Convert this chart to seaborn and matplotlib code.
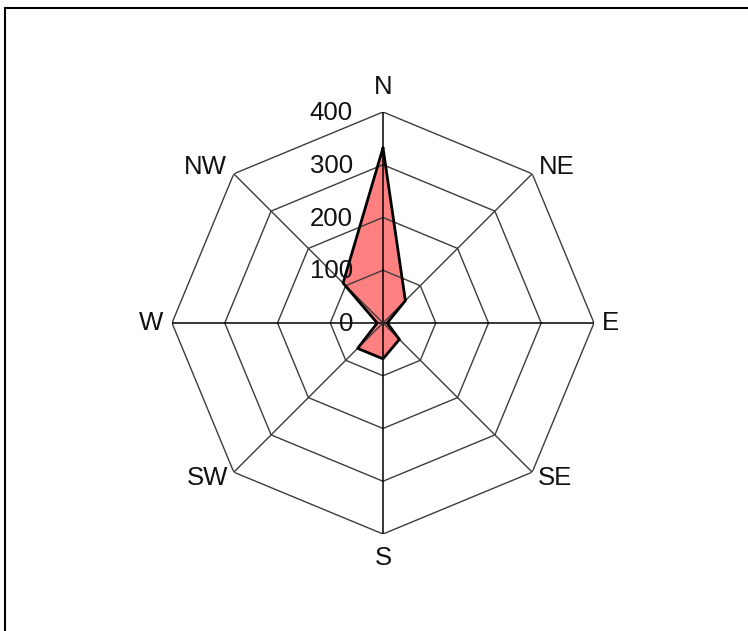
import numpy as np
import pandas as pd
import matplotlib
matplotlib.use("Agg")
import matplotlib.pyplot as plt
import matplotlib.transforms as mtransforms
from matplotlib.lines import Line2D
import seaborn as sns

# ---- data ----
directions = ["N", "NE", "E", "SE", "S", "SW", "W", "NW"]
values = [332, 60, 8, 44, 68, 68, 11, 107]
ring_values = [100, 200, 300, 400]
ring_labels = ["0", "100", "200", "300", "400"]
r_max = 400

sns.set_theme(style="white")
plt.rcParams["font.family"] = ["Liberation Sans", "DejaVu Sans"]

fig = plt.figure(figsize=(7.48, 6.31), dpi=100)
W, H = 748, 631
cx, cy, R = 383, 323, 211
ax = fig.add_axes([(cx - R) / W, (H - cy - R) / H, 2 * R / W, 2 * R / H],
                  projection="polar")
ax.set_theta_zero_location("N")
ax.set_theta_direction(-1)
ax.set_rlim(0, r_max)
ax.grid(False)
ax.set_xticks([])
ax.set_yticks([])
ax.spines["polar"].set_visible(False)
ax.patch.set_alpha(0)

n = len(directions)
angles = np.arange(n) * 2 * np.pi / n
ang_closed = np.append(angles, angles[0])

# data polygon
df = pd.DataFrame({"theta": ang_closed, "r": values + values[:1]})
ax.fill(df["theta"], df["r"], color="#FF8080", zorder=1, lw=0)

# rings (octagons)
for rv in ring_values:
    ax.plot(ang_closed, [rv] * (n + 1), color="#3c3c3c", lw=1.0, zorder=2)
# spokes
for i, a in enumerate(angles):
    main = i % 2 == 0
    ax.plot([a, a], [0, r_max], color="black" if main else "#3c3c3c",
            lw=1.1 if main else 1.0, zorder=2)

sns.lineplot(data=df, x="theta", y="r", sort=False, estimator=None,
             color="black", lw=2.0, ax=ax, zorder=3)
ax.set_xlabel("")
ax.set_ylabel("")
ax.set_rlim(0, r_max)
ax.set_xticks([])
ax.set_yticks([])

fs = 18.5
# radial labels
for i, lab in enumerate(ring_labels):
    rv = i * 100
    tr = mtransforms.offset_copy(ax.transData, fig=fig, x=-30, y=-1, units="dots")
    ax.text(0, rv, lab, transform=tr, ha="right", va="center", fontsize=fs,
            color="#111111", zorder=4)

# direction labels: (dx, dy in pixels, ha, va)
offs = {
    "N": (0, 25, "center", "center"),
    "NE": (7, 7, "left", "center"),
    "E": (8, 0, "left", "center"),
    "SE": (6, -6, "left", "center"),
    "S": (0, -24, "center", "center"),
    "SW": (-6, -6, "right", "center"),
    "W": (-9, 0, "right", "center"),
    "NW": (-7, 7, "right", "center"),
}
for a, d in zip(angles, directions):
    dx, dy, ha, va = offs[d]
    tr = mtransforms.offset_copy(ax.transData, fig=fig, x=dx, y=dy, units="dots")
    ax.text(a, r_max, d, transform=tr, ha=ha, va=va, fontsize=fs, color="#111111")

# border (top and left)
fig.add_artist(Line2D([5 / W, 5 / W], [0, 1 - 8 / H], transform=fig.transFigure,
                      color="black", lw=1.5))
fig.add_artist(Line2D([5 / W, 1], [1 - 8 / H, 1 - 8 / H], transform=fig.transFigure,
                      color="black", lw=1.5))

fig.savefig("out.png", dpi=100)
